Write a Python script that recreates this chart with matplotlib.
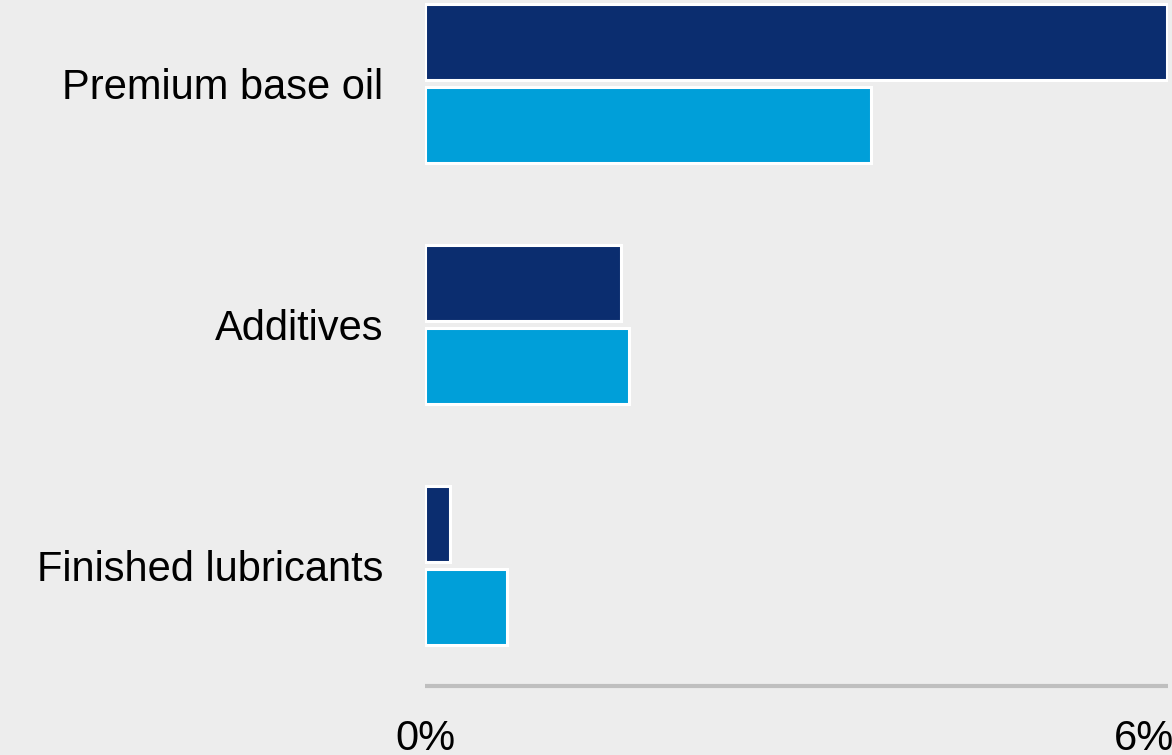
import numpy as np
import matplotlib
matplotlib.use("Agg")
import matplotlib.pyplot as plt
import matplotlib.transforms as mtransforms

# categories from bottom to top
categories = ["Finished lubricants", "Additives", "Premium base oil"]
series_dark = [0.20, 1.58, 5.99]
series_light = [0.66, 1.65, 3.60]
tick_vals = [0, 6]
tick_labels = ["0%", "6%"]

bg = "#ededed"
dark = "#0b2d6f"
light = "#009fd9"

plt.rcParams["font.family"] = ["Liberation Sans", "DejaVu Sans"]

fig = plt.figure(figsize=(11.72, 7.55), dpi=100, facecolor=bg)
ax = fig.add_axes([425 / 1172, 1 - 686 / 755, 743 / 1172, 686 / 755])
ax.set_facecolor(bg)

y = np.arange(len(categories))
h = 0.315
off = 0.172
ax.barh(y + off, series_dark, height=h, color=dark, edgecolor="white", linewidth=2.2)
ax.barh(y - off, series_light, height=h, color=light, edgecolor="white", linewidth=2.2)

ax.set_xlim(0, 6)
ax.set_ylim(-0.5, -0.5 + 686 / 241)

for s in ["top", "right", "left"]:
    ax.spines[s].set_visible(False)
ax.spines["bottom"].set_color("#bfbfbf")
ax.spines["bottom"].set_linewidth(3)
ax.spines["bottom"].set_capstyle("butt")

ax.set_yticks(y)
ax.set_yticklabels(categories, fontsize=30)
ax.tick_params(axis="y", length=0, pad=30)
ax.set_xticks([])

# x labels drawn by hand so the last one can sit a bit left of its tick
base = ax.get_xaxis_transform()
shifts = [0, -0.24]
for v, t, dx in zip(tick_vals, tick_labels, shifts):
    tr = base + mtransforms.ScaledTranslation(dx, -0.635, fig.dpi_scale_trans)
    ax.text(v, 0, t, transform=tr, ha="center", va="baseline", fontsize=30, clip_on=False)

fig.savefig("out.png", dpi=100, facecolor=bg)
